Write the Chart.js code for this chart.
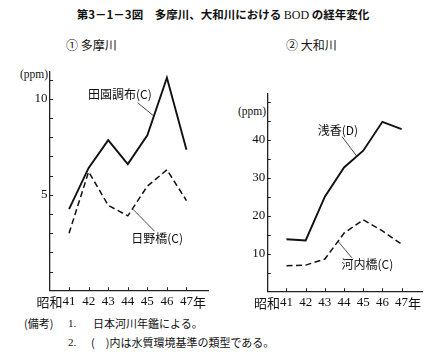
<!DOCTYPE html>
<html><head><meta charset="utf-8">
<script src="https://cdn.jsdelivr.net/npm/chart.js@4.4.0/dist/chart.umd.min.js"></script>
<style>
html,body{margin:0;padding:0;background:#fff;}
body{width:446px;height:360px;position:relative;overflow:hidden;font-family:"Noto Sans CJK JP",sans-serif;color:#111;}
.t{position:absolute;white-space:nowrap;line-height:1;}
.s{font-family:"Liberation Serif",serif;}
canvas{position:absolute;}
</style></head><body>
<div class="t" style="left:0;width:446px;text-align:center;top:9px;font-size:11.5px;font-weight:bold;">第3－1－3図　多摩川、大和川における <span class="s" style="font-weight:normal;font-size:12px">BOD</span> の経年変化</div>
<div class="t" style="left:66px;top:39px;font-size:12px;">① 多摩川</div>
<div class="t" style="left:286px;top:39px;font-size:12px;">② 大和川</div>
<div class="t s" style="left:20px;top:69px;font-size:11.5px;">(ppm)</div>
<div class="t s" style="left:238px;top:106px;font-size:11.5px;">(ppm)</div>
<canvas id="c1" width="220" height="250" style="left:0;top:60px;"></canvas>
<canvas id="c2" width="226" height="250" style="left:220px;top:60px;"></canvas>
<div class="t" style="left:24px;top:318px;font-size:11px;">(備考)</div>
<div class="t s" style="left:68px;top:318px;font-size:11px;">1.</div>
<div class="t" style="left:93px;top:318px;font-size:11px;">日本河川年鑑による。</div>
<div class="t s" style="left:68px;top:337px;font-size:11px;">2.</div>
<div class="t" style="left:91px;top:337px;font-size:11px;">(　)内は水質環境基準の類型である。</div>
<script>
// ---- data ----
const years = [41, 42, 43, 44, 45, 46, 47];
const denenchofu = [4.25, 6.4, 7.85, 6.6, 8.1, 11.1, 7.35];   // 田園調布(C)
const hinobashi  = [3.0, 6.2, 4.45, 3.9, 5.45, 6.3, 4.7];      // 日野橋(C)
const asaka      = [13.8, 13.5, 25.0, 32.7, 37.1, 44.7, 42.8]; // 浅香(D)
const kawachibashi = [6.8, 7.0, 8.6, 15.4, 18.9, 16.0, 12.5];  // 河内橋(C)
const leftYLabels = [5, 10];
const leftYMinor = [1,2,3,4,5,6,7,8,9,10,11];
const rightYLabels = [10, 20, 30, 40];
const rightYMinor = [5,10,15,20,25,30,35,40,45,50];

const pts = (vals) => years.map((x, i) => ({x, y: vals[i]}));
const SERIF = '"Liberation Serif", serif';
const CJK = '"Noto Sans CJK JP", sans-serif';

const deco = {
  id: 'deco',
  afterDraw(chart, args, o) {
    const ctx = chart.ctx, xs = chart.scales.x, ys = chart.scales.y;
    ctx.save();
    ctx.strokeStyle = '#222'; ctx.lineWidth = 1;
    o.yMinor.forEach(v => { const py = Math.round(ys.getPixelForValue(v)) + 0.5;
      ctx.beginPath(); ctx.moveTo(xs.left, py); ctx.lineTo(xs.left + 3.5, py); ctx.stroke(); });
    years.forEach(v => { const px = Math.round(xs.getPixelForValue(v)) + 0.5;
      ctx.beginPath(); ctx.moveTo(px, ys.bottom); ctx.lineTo(px, ys.bottom - 3.5); ctx.stroke(); });
    // 昭和 / 年 around tick labels
    ctx.fillStyle = '#111';
    ctx.font = '13px ' + SERIF;
    const w41 = ctx.measureText(String(years[0])).width;
    const w47 = ctx.measureText(String(years[years.length - 1])).width;
    const ly = xs.top + 3 + 8;
    ctx.textBaseline = 'middle';
    ctx.font = '13px ' + CJK;
    ctx.textAlign = 'right';
    ctx.fillText('昭和', xs.getPixelForValue(years[0]) - w41 / 2, ly);
    ctx.textAlign = 'left';
    ctx.fillText('年', xs.getPixelForValue(years[years.length - 1]) + w47 / 2, ly);
    // annotations
    o.notes.forEach(n => {
      ctx.font = '12px ' + CJK;
      ctx.textAlign = 'center'; ctx.textBaseline = 'middle';
      ctx.fillText(n.text, xs.getPixelForValue(n.tx), ys.getPixelForValue(n.ty));
      ctx.lineWidth = 0.8;
      ctx.beginPath();
      ctx.moveTo(xs.getPixelForValue(n.x1), ys.getPixelForValue(n.y1));
      ctx.lineTo(xs.getPixelForValue(n.x2), ys.getPixelForValue(n.y2));
      ctx.stroke();
    });
    ctx.restore();
  }
};

function makeChart(id, solid, dashed, yMax, yLabels, yMinor, notes, pad, yW, xH) {
  return new Chart(document.getElementById(id), {
    type: 'line',
    data: { datasets: [
      { data: pts(solid), borderColor: '#111', borderWidth: 1.9, pointRadius: 0, tension: 0 },
      { data: pts(dashed), borderColor: '#111', borderWidth: 1.5, borderDash: [6, 3.5], pointRadius: 0, tension: 0 }
    ]},
    options: {
      responsive: false, animation: false, devicePixelRatio: 1,
      layout: { padding: pad },
      plugins: { legend: { display: false }, tooltip: { enabled: false }, deco: { yMinor, notes } },
      scales: {
        x: { type: 'linear', min: 40, max: 48.1,
          afterBuildTicks: s => { s.ticks = years.map(v => ({ value: v })); },
          afterFit: s => { s.height = xH; },
          grid: { display: false, drawTicks: false },
          border: { color: '#222', width: 1.3 },
          ticks: { padding: 3, color: '#111', font: { family: SERIF, size: 13 }, maxRotation: 0, autoSkip: false } },
        y: { min: 0, max: yMax,
          afterBuildTicks: s => { s.ticks = yLabels.map(v => ({ value: v })); },
          afterFit: s => { s.width = yW; },
          grid: { display: false, drawTicks: false },
          border: { color: '#222', width: 1.3 },
          ticks: { padding: 2, color: '#111', font: { family: SERIF, size: 13 } } }
      }
    },
    plugins: [deco]
  });
}

makeChart('c1', denenchofu, hinobashi, 11.4, leftYLabels, leftYMinor, [
  { text: '田園調布(C)', tx: 43.6, ty: 10.25, x1: 44.5, y1: 9.8, x2: 45.34, y2: 9.1 },
  { text: '日野橋(C)', tx: 45.5, ty: 2.75, x1: 44.26, y1: 4.25, x2: 45.37, y2: 3.1 }
], { top: 12, right: 12, left: 0, bottom: 0 }, 49.5, 19.3);

makeChart('c2', asaka, kawachibashi, 52.2, rightYLabels, rightYMinor, [
  { text: '浅香(D)', tx: 43.68, ty: 42.5, x1: 43.9, y1: 40.8, x2: 44.67, y2: 35.6 },
  { text: '河内橋(C)', tx: 45.22, ty: 7.3, x1: 43.68, y1: 13.3, x2: 44.41, y2: 8.9 }
], { top: 33.3, right: 23.3, left: 0, bottom: 0 }, 47.3, 18.3);
</script>
</body></html>
